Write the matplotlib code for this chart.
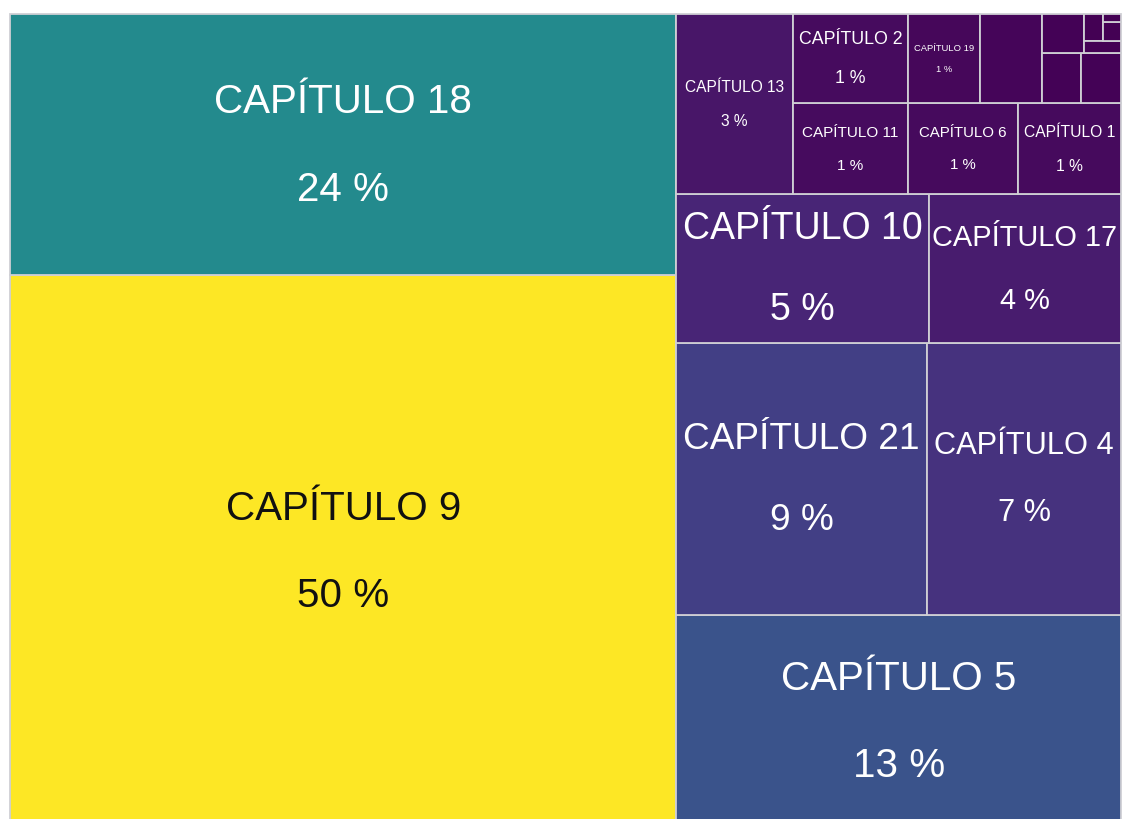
import matplotlib
matplotlib.use("Agg")
import matplotlib.pyplot as plt
from matplotlib.patches import Rectangle
from matplotlib import colors as mcolors

# ---------------- data ----------------
chapters = ['CAPÍTULO 9', 'CAPÍTULO 18', 'CAPÍTULO 5', 'CAPÍTULO 21', 'CAPÍTULO 4',
            'CAPÍTULO 10', 'CAPÍTULO 17', 'CAPÍTULO 13', 'CAPÍTULO 11', 'CAPÍTULO 2',
            'CAPÍTULO 6', 'CAPÍTULO 1', 'CAPÍTULO 19', 'CAPÍTULO 3', 'CAPÍTULO 7',
            'CAPÍTULO 8', 'CAPÍTULO 12', 'CAPÍTULO 14', 'CAPÍTULO 15', 'CAPÍTULO 16',
            'CAPÍTULO 20']
values = [40.70, 19.24, 10.44, 7.56, 5.84,
          4.15, 3.15, 2.33, 1.16, 1.13,
          1.11, 1.04, 0.71, 0.61, 0.22,
          0.22, 0.18, 0.057, 0.049, 0.038,
          0.016]
pct_labels = [50, 24, 13, 9, 7,
              5, 4, 3, 1, 1,
              1, 1, 1, 1, 0,
              0, 0, 0, 0, 0,
              0]

# ---------------- layout structure (slice directions) ----------------
C = lambda n: f'CAPÍTULO {n}'
layout = ('h', [
    ('v', [C(18), C(9)]),
    ('v', [
        ('h', [C(13), ('v', [
            ('h', [C(2), C(19), C(3),
                   ('v', [('h', [C(12), ('v', [('h', [C(14), ('v', [C(20), C(16)])]), C(15)])]),
                          ('h', [C(7), C(8)])])]),
            ('h', [C(11), C(6), C(1)])])]),
        ('h', [C(10), C(17)]),
        ('h', [C(21), C(4)]),
        C(5)])])

# label font sizes (px) - style
font_px = {C(9): 40.4, C(18): 40.4, C(5): 40.4, C(21): 37, C(4): 30.8,
           C(10): 37.5, C(17): 29, C(13): 15.5, C(2): 17.8, C(11): 15.3,
           C(6): 15, C(1): 15.6, C(19): 9.4}

val = dict(zip(chapters, values))
pct = dict(zip(chapters, pct_labels))


def total(node):
    if isinstance(node, str):
        return val[node]
    return sum(total(c) for c in node[1])


rects = {}


def place(node, x, y, w, h):
    if isinstance(node, str):
        rects[node] = (x, y, w, h)
        return
    d, kids = node
    s = total(node)
    pos = 0.0
    for k in kids:
        f = total(k) / s
        if d == 'h':
            place(k, x + pos * w, y, f * w, h)
        else:
            place(k, x, y + pos * h, w, f * h)
        pos += f


W, H = 1111.0, 813.0
place(layout, 0, 0, W, H)

# ---------------- draw ----------------
fig = plt.figure(figsize=(11.22, 8.19), dpi=100)
ax = fig.add_axes([10 / 1122, (819 - 827) / 819, 1111 / 1122, 813 / 819])
ax.set_xlim(0, W)
ax.set_ylim(H, 0)
ax.axis('off')

cmap = plt.get_cmap('viridis')
vmax = max(values)

for name in chapters:
    x, y, w, h = rects[name]
    col = cmap(val[name] / vmax)
    ax.add_patch(Rectangle((x, y), w, h, facecolor=col, edgecolor='#cfcfd4',
                           linewidth=1.3, clip_on=False))
    if name in font_px:
        r, g, b, _ = col
        lum = 0.2126 * r + 0.7152 * g + 0.0722 * b
        tcol = '#111111' if lum > 0.5 else 'white'
        fs = font_px[name]
        cx, cy = x + w / 2, y + h / 2
        ax.text(cx, cy - 1.05 * fs, name, ha='center', va='center',
                fontsize=fs * 0.72, color=tcol, family='Liberation Sans')
        ax.text(cx, cy + 1.12 * fs, f'{pct[name]} %', ha='center', va='center',
                fontsize=fs * 0.72, color=tcol, family='Liberation Sans')

fig.savefig('out.png', dpi=100, facecolor='white')
